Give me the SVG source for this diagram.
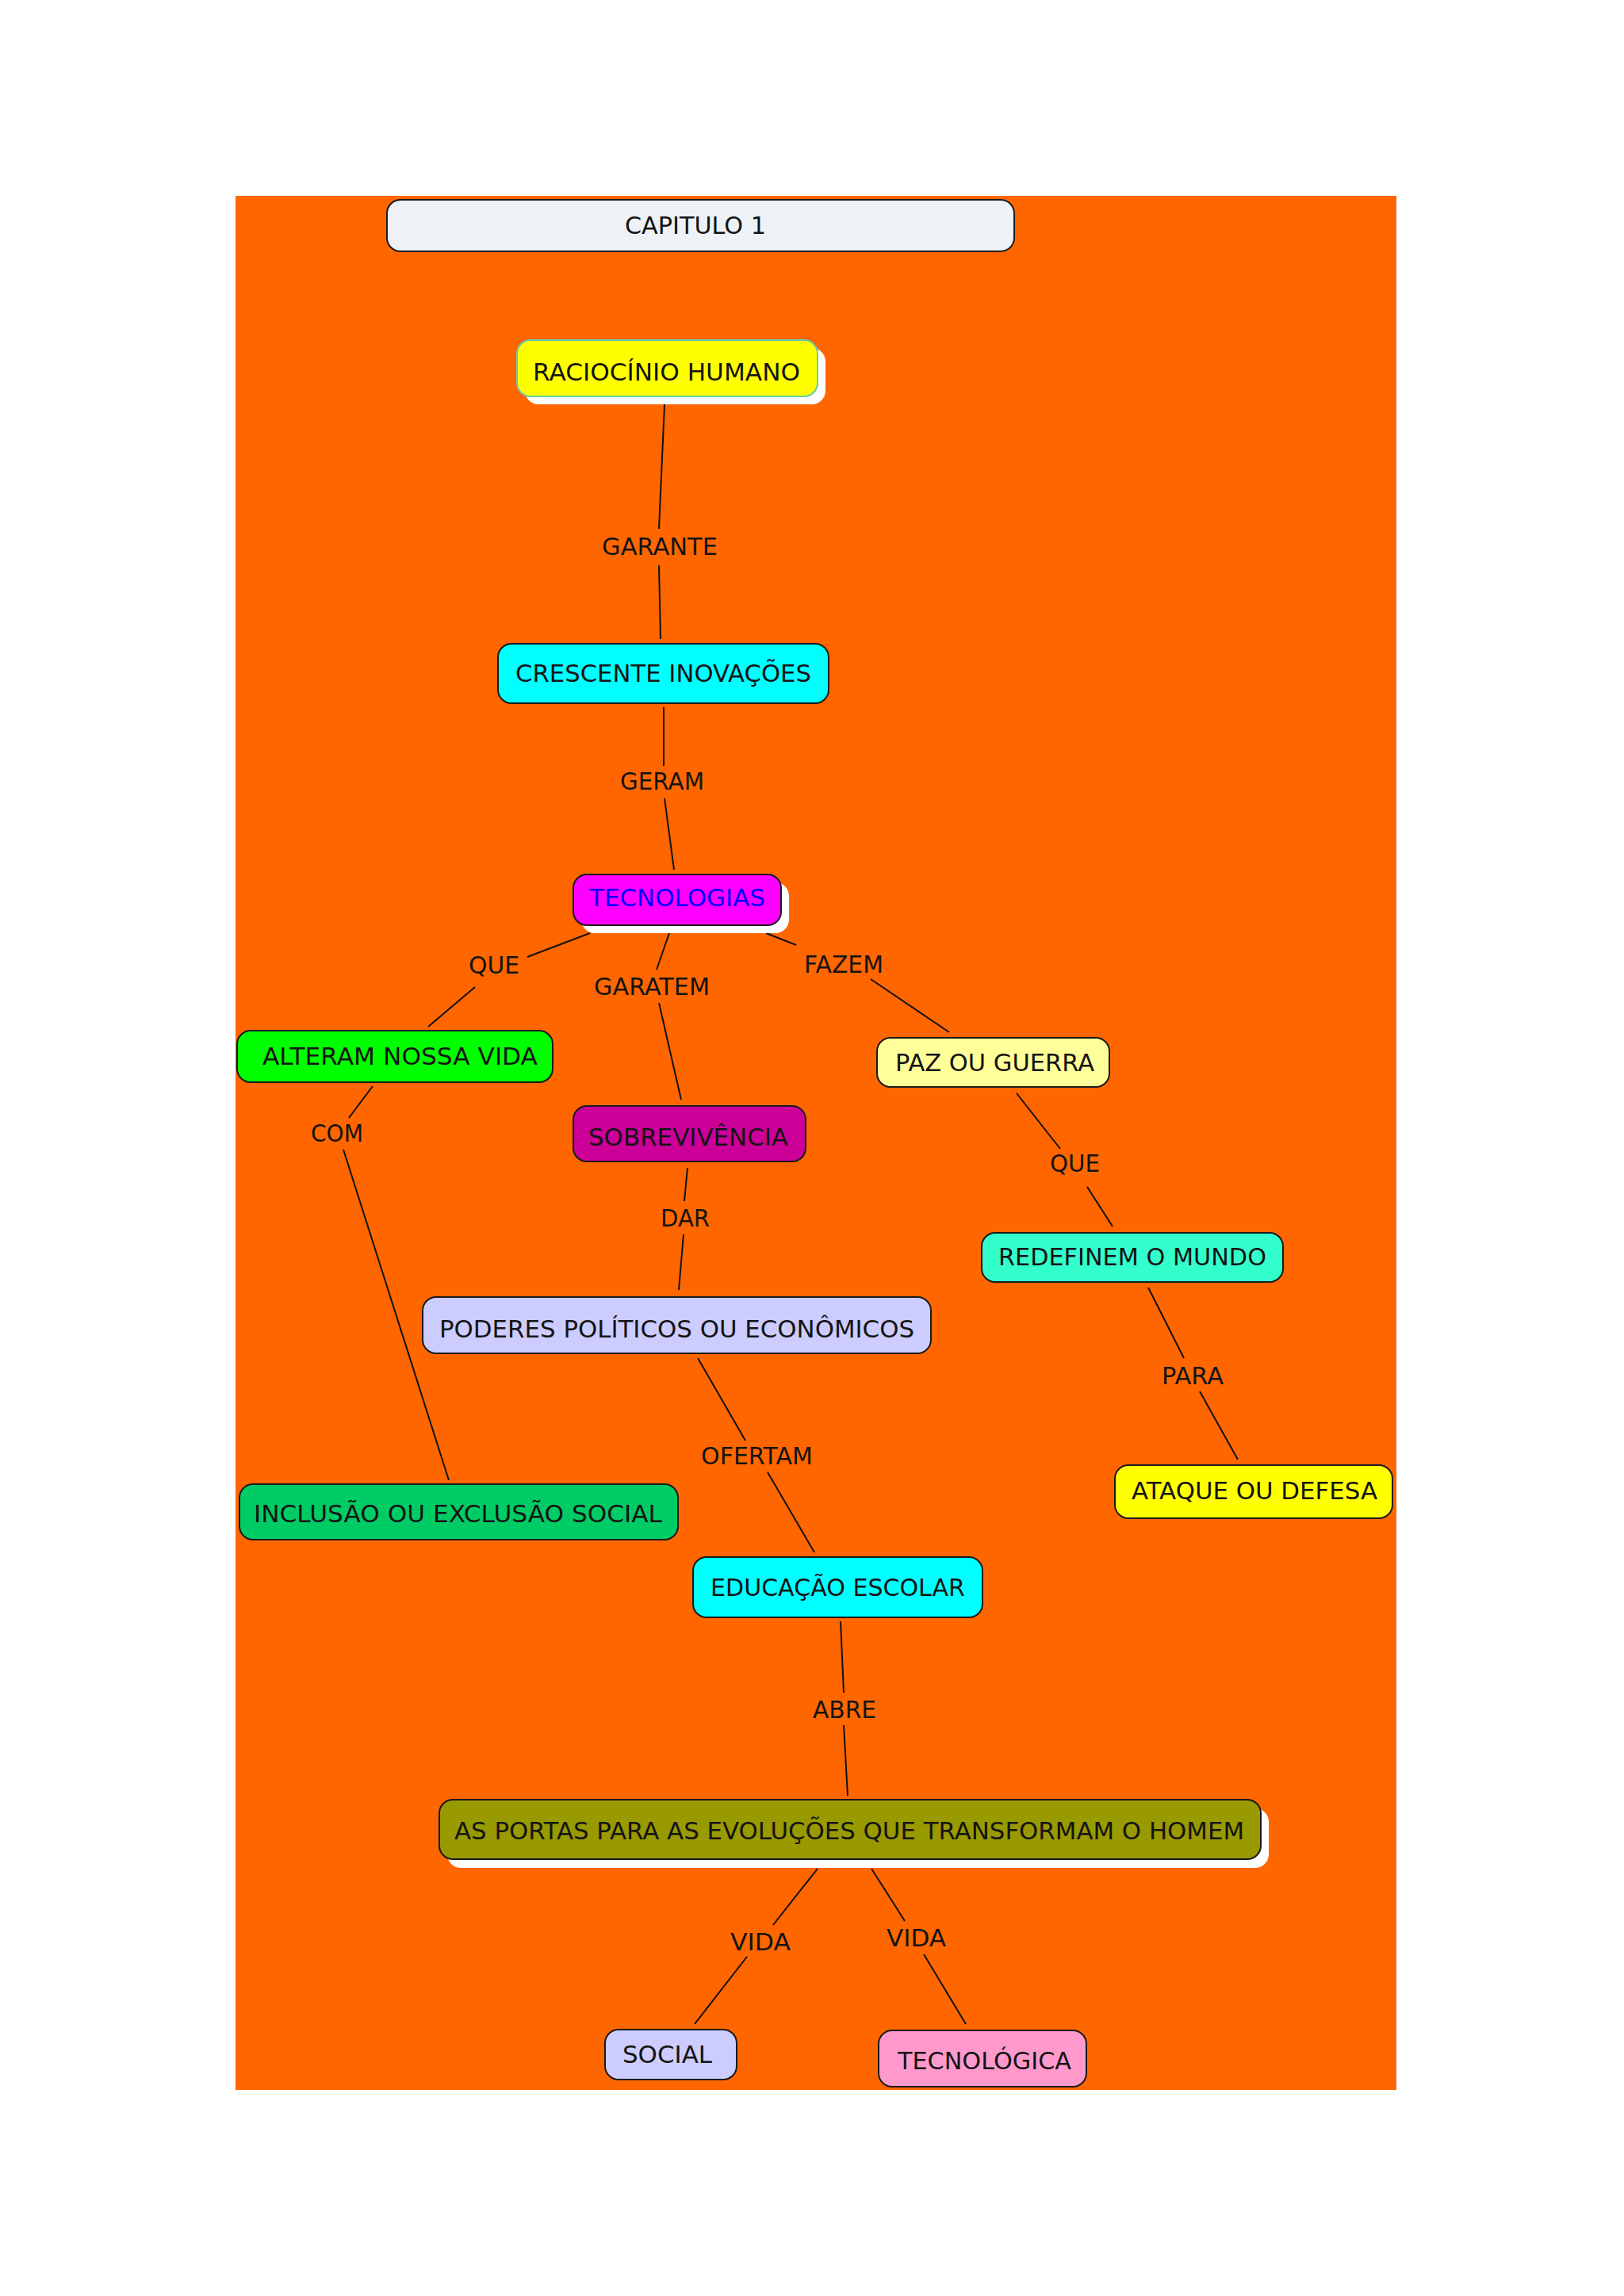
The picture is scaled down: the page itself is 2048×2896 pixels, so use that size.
<svg xmlns="http://www.w3.org/2000/svg" width="2048" height="2896" viewBox="0 0 2048 2896">
<style>
.n{stroke:#1a1a1a;stroke-width:2}
.sh{fill:#ffffff}
.t{font-family:"DejaVu Sans","Verdana","Liberation Sans",sans-serif;font-size:30px;fill:#141414}
.l{font-family:"DejaVu Sans","Verdana","Liberation Sans",sans-serif;font-size:30px;fill:#141414}
.c{stroke:#111;stroke-width:2;fill:none}
</style>
<rect x="0" y="0" width="2048" height="2896" fill="#ffffff"/>
<rect x="297" y="247" width="1464" height="1389" fill="#ff6600"/>
<rect x="297" y="1636" width="1464" height="1000" fill="#ff6600"/>
<g id="connectors">
<line class="c" x1="838" y1="510" x2="831" y2="667"/>
<line class="c" x1="831" y1="713" x2="833" y2="806"/>
<line class="c" x1="837" y1="892" x2="837" y2="966"/>
<line class="c" x1="838" y1="1007" x2="850" y2="1097"/>
<line class="c" x1="744" y1="1177" x2="665" y2="1207"/>
<line class="c" x1="599" y1="1245" x2="540" y2="1295"/>
<line class="c" x1="844" y1="1177" x2="828" y2="1223"/>
<line class="c" x1="831" y1="1265" x2="859" y2="1387"/>
<line class="c" x1="966" y1="1177" x2="1004" y2="1192"/>
<line class="c" x1="1098" y1="1235" x2="1197" y2="1302"/>
<line class="c" x1="470" y1="1370" x2="440" y2="1410"/>
<line class="c" x1="433" y1="1450" x2="566" y2="1867"/>
<line class="c" x1="867" y1="1473" x2="863" y2="1515"/>
<line class="c" x1="862" y1="1557" x2="856" y2="1627"/>
<line class="c" x1="1282" y1="1379" x2="1337" y2="1449"/>
<line class="c" x1="1371" y1="1497" x2="1403" y2="1547"/>
<line class="c" x1="1448" y1="1624" x2="1493" y2="1713"/>
<line class="c" x1="1513" y1="1755" x2="1561" y2="1841"/>
<line class="c" x1="880" y1="1713" x2="940" y2="1817"/>
<line class="c" x1="968" y1="1857" x2="1027" y2="1958"/>
<line class="c" x1="1060" y1="2045" x2="1064" y2="2135"/>
<line class="c" x1="1064" y1="2176" x2="1069" y2="2265"/>
<line class="c" x1="1031" y1="2357" x2="975" y2="2428"/>
<line class="c" x1="942" y1="2468" x2="876" y2="2553"/>
<line class="c" x1="1099" y1="2357" x2="1141" y2="2423"/>
<line class="c" x1="1165" y1="2465" x2="1218" y2="2553"/>
</g>
<g id="labels">
<text class="l" x="759" y="700" textLength="146" lengthAdjust="spacingAndGlyphs">GARANTE</text>
<text class="l" x="782" y="996" textLength="106" lengthAdjust="spacingAndGlyphs">GERAM</text>
<text class="l" x="591" y="1228" textLength="64" lengthAdjust="spacingAndGlyphs">QUE</text>
<text class="l" x="749" y="1255" textLength="146" lengthAdjust="spacingAndGlyphs">GARATEM</text>
<text class="l" x="1014" y="1227" textLength="100" lengthAdjust="spacingAndGlyphs">FAZEM</text>
<text class="l" x="392" y="1440" textLength="66" lengthAdjust="spacingAndGlyphs">COM</text>
<text class="l" x="1324" y="1478" textLength="63" lengthAdjust="spacingAndGlyphs">QUE</text>
<text class="l" x="833" y="1547" textLength="62" lengthAdjust="spacingAndGlyphs">DAR</text>
<text class="l" x="1465" y="1746" textLength="78" lengthAdjust="spacingAndGlyphs">PARA</text>
<text class="l" x="884" y="1847" textLength="141" lengthAdjust="spacingAndGlyphs">OFERTAM</text>
<text class="l" x="1025" y="2167" textLength="80" lengthAdjust="spacingAndGlyphs">ABRE</text>
<text class="l" x="921" y="2460" textLength="76" lengthAdjust="spacingAndGlyphs">VIDA</text>
<text class="l" x="1118" y="2455" textLength="75" lengthAdjust="spacingAndGlyphs">VIDA</text>
</g>
<g id="n-capitulo">
<rect class="n" x="488" y="252" width="791" height="65" rx="17" fill="#eef2f7"/>
<text class="t" x="788" y="295" textLength="178" lengthAdjust="spacingAndGlyphs">CAPITULO 1</text>
</g>
<g id="n-raciocinio">
<rect class="sh" x="662" y="439" width="379" height="71" rx="17"/>
<rect x="652" y="429" width="379" height="71" rx="17" fill="#ffff00" stroke="#66ccaa" stroke-width="2"/>
<text class="t" x="672" y="480" textLength="337" lengthAdjust="spacingAndGlyphs">RACIOCÍNIO HUMANO</text>
</g>
<g id="n-crescente">
<rect class="n" x="628" y="812" width="417" height="75" rx="17" fill="#00ffff"/>
<text class="t" x="650" y="860" textLength="373" lengthAdjust="spacingAndGlyphs">CRESCENTE INOVAÇÕES</text>
</g>
<g id="n-tecnologias">
<rect class="sh" x="733" y="1113" width="262" height="64" rx="17"/>
<rect class="n" x="723" y="1103" width="262" height="64" rx="17" fill="#ff00ff"/>
<text class="t" x="743" y="1143" textLength="222" lengthAdjust="spacingAndGlyphs" style="fill:#0000ff">TECNOLOGIAS</text>
</g>
<g id="n-alteram">
<rect class="n" x="299" y="1300" width="398" height="65" rx="17" fill="#00ff00"/>
<text class="t" x="331" y="1343" textLength="347" lengthAdjust="spacingAndGlyphs">ALTERAM NOSSA VIDA</text>
</g>
<g id="n-sobrevivencia">
<rect class="n" x="723" y="1395" width="293" height="70" rx="17" fill="#cc0099"/>
<text class="t" x="742" y="1445" textLength="252" lengthAdjust="spacingAndGlyphs">SOBREVIVÊNCIA</text>
</g>
<g id="n-paz">
<rect class="n" x="1106" y="1309" width="293" height="62" rx="17" fill="#ffff99"/>
<text class="t" x="1129" y="1351" textLength="251" lengthAdjust="spacingAndGlyphs">PAZ OU GUERRA</text>
</g>
<g id="n-redefinem">
<rect class="n" x="1238" y="1555" width="380" height="62" rx="17" fill="#33ffcc"/>
<text class="t" x="1259" y="1596" textLength="338" lengthAdjust="spacingAndGlyphs">REDEFINEM O MUNDO</text>
</g>
<g id="n-poderes">
<rect class="n" x="533" y="1636" width="641" height="71" rx="17" fill="#ccccff"/>
<text class="t" x="554" y="1687" textLength="599" lengthAdjust="spacingAndGlyphs">PODERES POLÍTICOS OU ECONÔMICOS</text>
</g>
<g id="n-ataque">
<rect class="n" x="1406" y="1848" width="350" height="67" rx="17" fill="#ffff00"/>
<text class="t" x="1427" y="1891" textLength="310" lengthAdjust="spacingAndGlyphs">ATAQUE OU DEFESA</text>
</g>
<g id="n-inclusao">
<rect class="n" x="302" y="1872" width="553" height="70" rx="17" fill="#00cc66"/>
<text class="t" x="320" y="1920" textLength="515" lengthAdjust="spacingAndGlyphs">INCLUSÃO OU EXCLUSÃO SOCIAL</text>
</g>
<g id="n-educacao">
<rect class="n" x="874" y="1964" width="365" height="76" rx="17" fill="#00ffff"/>
<text class="t" x="896" y="2013" textLength="321" lengthAdjust="spacingAndGlyphs">EDUCAÇÃO ESCOLAR</text>
</g>
<g id="n-portas">
<rect class="sh" x="564" y="2281" width="1036" height="75" rx="17"/>
<rect class="n" x="554" y="2270" width="1036" height="75" rx="17" fill="#999900"/>
<text class="t" x="573" y="2320" textLength="996" lengthAdjust="spacingAndGlyphs">AS PORTAS PARA AS EVOLUÇÕES QUE TRANSFORMAM O HOMEM</text>
</g>
<g id="n-social">
<rect class="n" x="763" y="2560" width="166" height="63" rx="17" fill="#ccccff"/>
<text class="t" x="785" y="2602" textLength="113" lengthAdjust="spacingAndGlyphs">SOCIAL</text>
</g>
<g id="n-tecnologica">
<rect class="n" x="1108" y="2561" width="262" height="71" rx="17" fill="#ff99cc"/>
<text class="t" x="1132" y="2610" textLength="219" lengthAdjust="spacingAndGlyphs">TECNOLÓGICA</text>
</g>
</svg>
